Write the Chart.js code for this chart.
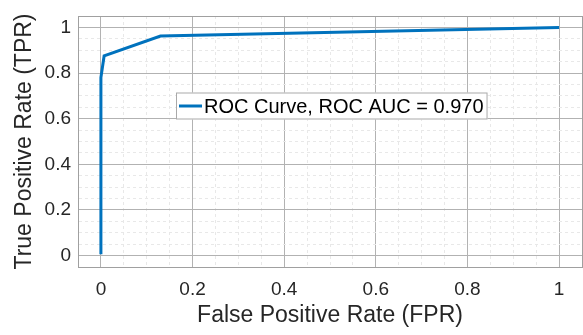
<!DOCTYPE html>
<html>
<head>
<meta charset="utf-8">
<script src="https://cdn.jsdelivr.net/npm/chart.js@4"></script>
<style>
  html, body { margin: 0; padding: 0; background: #fff; }
  #wrap { width: 583px; height: 335px; }
</style>
</head>
<body>
<div id="wrap"><canvas id="roc" width="583" height="335"></canvas></div>
<script>
'use strict';

// ROC curve points
const fpr = [0, 0, 0.007, 0.13, 1];
const tpr = [0.006, 0.78, 0.875, 0.962, 1];
const curveLabel = 'ROC Curve, ROC AUC = 0.970';

const axisMin = -0.05;
const axisMax = 1.05;
const majorStep = 0.2;
const minorStep = 0.05;

const FONT = "'Liberation Sans', Arial, Helvetica, sans-serif";
const TEXT = '#262626';
const LINE = '#0072BD';
const MAJOR_GRID = '#b2b2b2';
const MINOR_GRID = '#e8e8e8';
const FRAME = '#a0a0a0';

function isMajor(v) {
  const q = v / majorStep;
  return Math.abs(q - Math.round(q)) < 1e-6;
}
function isBound(v) {
  return Math.abs(v - axisMin) < 1e-6 || Math.abs(v - axisMax) < 1e-6;
}
function tickLabel(v) {
  return isMajor(v) && !isBound(v) ? String(+v.toFixed(1)) : '';
}
function gridColor(ctx) {
  if (!ctx.tick) { return MAJOR_GRID; }
  const v = ctx.tick.value;
  if (isBound(v)) { return FRAME; }
  return isMajor(v) ? MAJOR_GRID : MINOR_GRID;
}
function gridDash(ctx) {
  if (!ctx.tick) { return []; }
  const v = ctx.tick.value;
  return isMajor(v) || isBound(v) ? [] : [3, 3];
}

// legend box sitting inside the plot area
const legendBox = {
  id: 'legendBox',
  afterDatasetsDraw(chart) {
    const ctx = chart.ctx;
    const ds = chart.data.datasets[0];
    const x = 176, y = 92.5, h = 27;
    ctx.save();
    ctx.font = '20px ' + FONT;
    const w = 29 + ctx.measureText(ds.label).width + 3;
    ctx.fillStyle = '#fff';
    ctx.fillRect(x, y, w, h);
    ctx.strokeStyle = '#a9a9a9';
    ctx.lineWidth = 1;
    ctx.strokeRect(x + 0.5, y + 0.5, w - 1, h - 1);
    ctx.strokeStyle = ds.borderColor;
    ctx.lineWidth = 3;
    ctx.beginPath();
    ctx.moveTo(x + 3, y + h / 2);
    ctx.lineTo(x + 26, y + h / 2);
    ctx.stroke();
    ctx.fillStyle = '#000';
    ctx.textBaseline = 'middle';
    ctx.fillText(ds.label, x + 28, y + h / 2 + 1);
    ctx.restore();
  }
};

function axis(title, fit, titlePad, tickPad) {
  return {
    type: 'linear',
    min: axisMin,
    max: axisMax,
    afterFit: fit,
    ticks: {
      stepSize: minorStep,
      autoSkip: false,
      maxRotation: 0,
      padding: tickPad,
      color: TEXT,
      font: { family: FONT, size: 19 },
      callback: tickLabel
    },
    grid: { color: gridColor, lineWidth: 1, drawTicks: false },
    border: { color: FRAME, width: 1, dash: gridDash },
    title: {
      display: true,
      text: title,
      color: TEXT,
      font: { family: FONT, size: 23 },
      padding: titlePad
    }
  };
}

new Chart(document.getElementById('roc'), {
  type: 'line',
  data: {
    datasets: [{
      label: curveLabel,
      data: fpr.map((x, i) => ({ x, y: tpr[i] })),
      borderColor: LINE,
      backgroundColor: LINE,
      borderWidth: 3,
      pointRadius: 0,
      tension: 0,
      fill: false
    }]
  },
  plugins: [legendBox],
  options: {
    responsive: false,
    animation: false,
    devicePixelRatio: 1,
    layout: { padding: { top: 16, right: 1, left: 0, bottom: 0 } },
    plugins: { legend: { display: false }, tooltip: { enabled: false } },
    scales: {
      x: axis('False Positive Rate (FPR)', s => {
        s.height = 68;
        s.paddingLeft = 0;
        s.paddingRight = 0;
      }, { top: 0, bottom: 6 }, 11),
      y: axis('True Positive Rate (TPR)', s => {
        s.width = 78;
        s.paddingTop = 0;
        s.paddingBottom = 0;
      }, { top: 11, bottom: 0 }, 7)
    }
  }
});
</script>
</body>
</html>
